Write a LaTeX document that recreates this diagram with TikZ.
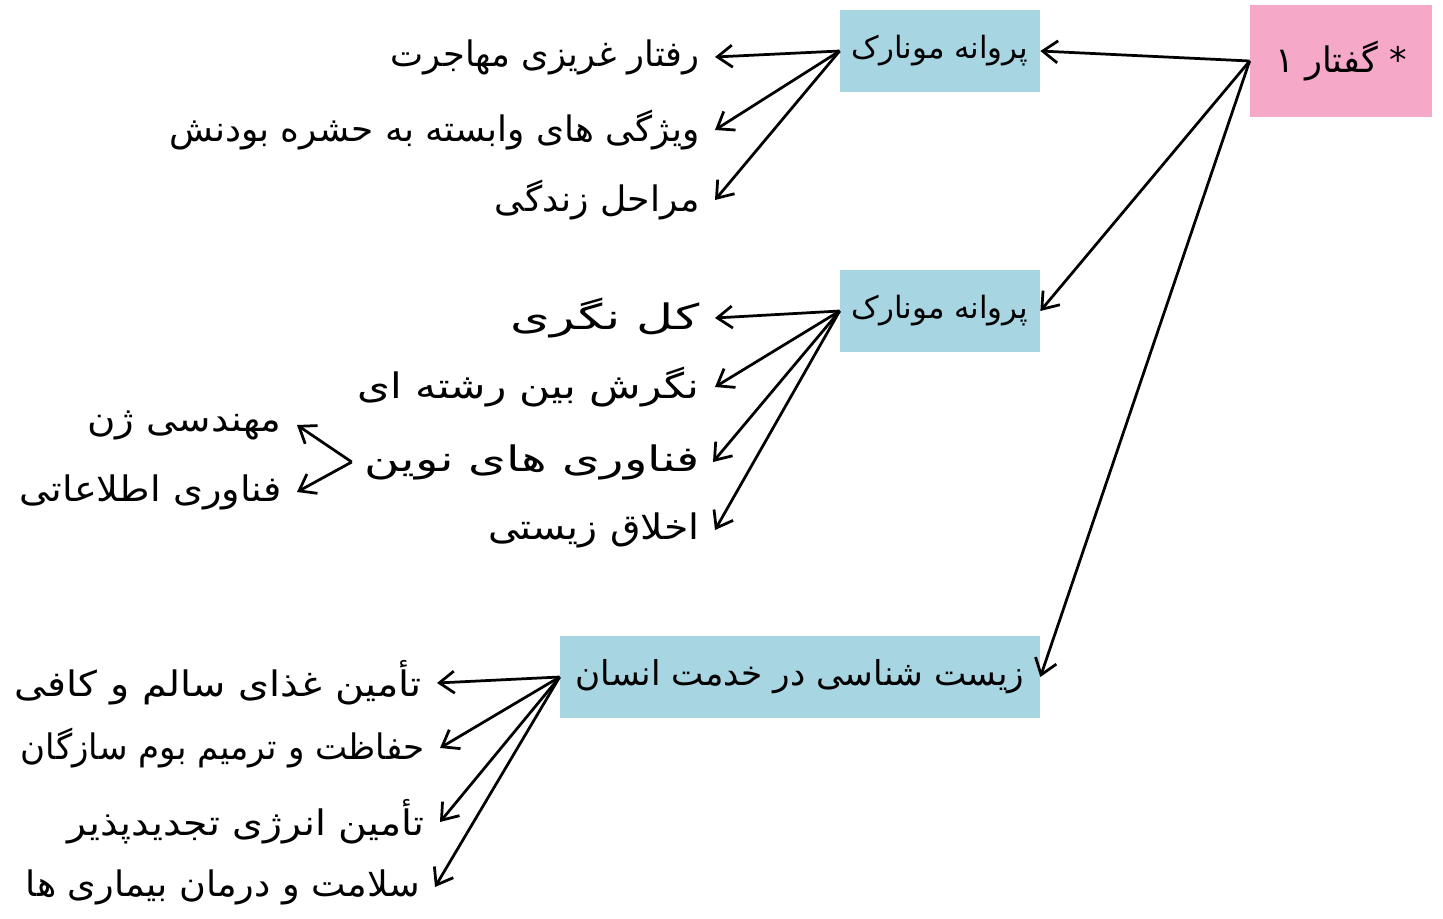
\documentclass[tikz,border=0pt]{standalone}
\usepackage{fontspec}
\usepackage{graphicx}
\usepackage{xcolor}
\usepackage{tikz}
\usetikzlibrary{arrows.meta, positioning}
\TeXXeTstate=1
\newfontfamily\farsi[Script=Arabic]{DejaVu Sans}
%% Persian text, optionally stretched to the width of the handwriting
\newcommand{\fa}[2][1]{\scalebox{#1}[1]{\farsi\beginR #2\endR}}
\definecolor{rootpink}{HTML}{F5A8C8}
\definecolor{topicblue}{HTML}{A8D5E2}

\begin{document}
\begin{tikzpicture}[
  x=0.2mm, y=-0.2mm,
  rootbox/.style = {fill=rootpink, minimum width=36.4mm, minimum height=22.4mm,
                    font=\fontsize{20}{24}\selectfont},
  topic/.style   = {fill=topicblue, minimum width=40mm, minimum height=16.4mm,
                    font=\fontsize{17.5}{21}\selectfont},
  leaf/.style    = {anchor=east, inner xsep=3mm, inner ysep=1mm,
                    font=\fontsize{20}{24}\selectfont},
  arr/.style     = {-{Straight Barb[length=3mm, width=4.4mm]}, line width=0.55mm},
]
\useasboundingbox (0,0) rectangle (1443,919);

%% Main boxes
\node[rootbox] (gofter)   at (1341, 61)  {\fa{* گفتار ۱}};
\node[topic]   (monarchA) at (940,  51)  {\fa{پروانه مونارک}};
\node[topic]   (monarchB) at (940,  311) {\fa{پروانه مونارک}};
\node[topic, minimum width=96mm, font=\fontsize{19.5}{23}\selectfont]
      (service) at (800, 677) {\fa{زیست شناسی در خدمت انسان}};

%% Root -> topics
\draw[arr] (gofter.west) -- (monarchA.east);
\draw[arr] (gofter.west) -- (monarchB.east);
\draw[arr] (gofter.west) -- (service.east);

%% First topic
\node[leaf] (instinct) at (715, 57)  {\fa{رفتار غریزی مهاجرت}};
\node[leaf] (insect)   at (715, 130) {\fa[1.02]{ویژگی های وابسته به حشره بودنش}};
\node[leaf] (stages)   at (715, 200) {\fa[1.03]{مراحل زندگی}};
\foreach \n in {instinct, insect, stages}
  \draw[arr] (monarchA.west) -- (\n.east);

%% Second topic
\node[leaf] (holism)  at (715, 318) {\fa[1.45]{کل نگری}};
\node[leaf] (interd)  at (715, 387) {\fa[1.2]{نگرش بین رشته ای}};
\node[leaf, inner xsep=2.5mm] (tech) at (713, 462) {\fa[1.38]{فناوری های نوین}};
\node[leaf] (ethics)  at (715, 530) {\fa[1.12]{اخلاق زیستی}};
\foreach \n in {holism, interd, tech, ethics}
  \draw[arr] (monarchB.west) -- (\n.east);

%% New technologies
\node[leaf] (genetic) at (297, 425) {\fa[1.1]{مهندسی ژن}};
\node[leaf] (infotec) at (297, 492) {\fa[1.09]{فناوری اطلاعاتی}};
\draw[arr] (tech.west) -- (genetic.east);
\draw[arr] (tech.west) -- (infotec.east);

%% Third topic
\node[leaf] (food)    at (437, 683) {\fa[1.13]{تأمین غذای سالم و کافی}};
\node[leaf] (habitat) at (440, 748) {\fa[0.97]{حفاظت و ترمیم بوم سازگان}};
\node[leaf] (energy)  at (440, 822) {\fa[1.12]{تأمین انرژی تجدیدپذیر}};
\node[leaf] (health)  at (435, 887) {\fa[1.04]{سلامت و درمان بیماری ها}};
\foreach \n in {food, habitat, energy, health}
  \draw[arr] (service.west) -- (\n.east);

\end{tikzpicture}
\end{document}
